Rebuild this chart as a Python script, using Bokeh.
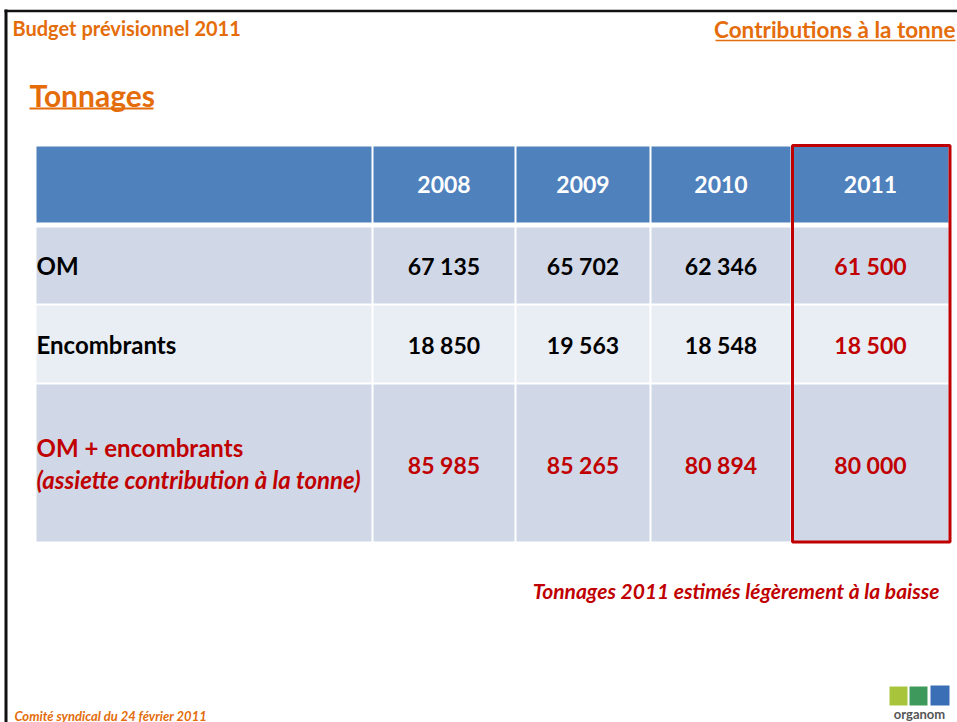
from bokeh.plotting import figure
from bokeh.models import Range1d, ColumnDataSource
from bokeh.core.properties import value
from bokeh.embed import file_html
from bokeh.resources import INLINE

# ---------------- data ----------------
years = ["2008", "2009", "2010", "2011"]
row_labels = ["OM", "Encombrants", "OM + encombrants"]
row_sublabel = "(assiette contribution à la tonne)"
om = [67135, 65702, 62346, 61500]
encombrants = [18850, 19563, 18548, 18500]
total = [85985, 85265, 80894, 80000]
series = [om, encombrants, total]

title_left = "Budget prévisionnel 2011"
title_right = "Contributions à la tonne"
heading = "Tonnages"
note = "Tonnages 2011 estimés légèrement à la baisse"
footer = "Comité syndical du 24 février 2011"

# ---------------- styles / layout ----------------
FONT = "Lato"
ORANGE = "#E46C0A"
RED = "#C00000"
HEAD = "#4F81BD"
ROW_DARK = "#D0D8E8"
ROW_LIGHT = "#E9EDF4"

col_edges = [(36, 371), (373, 514), (516, 649), (651, 790), (792, 948)]
row_edges = [(146, 222), (227, 303), (305, 382), (384, 541)]
row_fill = [HEAD, ROW_DARK, ROW_LIGHT, ROW_DARK]


def fmt(v):
    return f"{v:,}".replace(",", " ")


p = figure(width=957, height=722, x_range=Range1d(0, 957), y_range=Range1d(722, 0),
           x_axis_type=None, y_axis_type=None, toolbar_location=None,
           output_backend="svg", min_border=0, outline_line_color=None,
           background_fill_color="white", border_fill_color="white")
p.grid.visible = False

# slide frame (top and left borders)
p.segment(x0=[4], y0=[10.5], x1=[960], y1=[10.5], line_color="#111111", line_width=2.5)
p.segment(x0=[5.5], y0=[9], x1=[5.5], y1=[730], line_color="#111111", line_width=3)

# table cells
left, right, top, bottom, fills = [], [], [], [], []
for ri, (t, b) in enumerate(row_edges):
    for (l, r) in col_edges:
        left.append(l); right.append(r); top.append(t); bottom.append(b); fills.append(row_fill[ri])
p.quad(left=left, right=right, top=top, bottom=bottom, fill_color=fills, line_color=None)

# header years
hx = [(col_edges[i + 1][0] + col_edges[i + 1][1]) / 2 for i in range(len(years))]
hy = (row_edges[0][0] + row_edges[0][1]) / 2
p.text(x=hx, y=[hy] * len(years), text=years, text_color="white", text_font=value(FONT),
       text_font_style="bold", text_font_size="23px", text_align="center", text_baseline="middle")

# values
vx, vy, vt, vc = [], [], [], []
row_centers = [265, 344, 464]
for ri, s in enumerate(series):
    for ci, v in enumerate(s):
        vx.append(hx[ci]); vy.append(row_centers[ri]); vt.append(fmt(v))
        vc.append(RED if (ri == 2 or ci == 3) else "black")
src = ColumnDataSource(dict(x=vx, y=vy, t=vt, c=vc))
p.text(x="x", y="y", text="t", text_color="c", source=src, text_font=value(FONT),
       text_font_style="bold", text_font_size="23px", text_align="center", text_baseline="middle")

# row labels
p.text(x=[36, 36], y=row_centers[:2], text=row_labels[:2], text_color="black",
       text_font=value(FONT), text_font_style="bold", text_font_size="24px",
       text_baseline="middle")
p.text(x=[36], y=[447], text=[row_labels[2]], text_color=RED, text_font=value(FONT),
       text_font_style="bold", text_font_size="24px", text_baseline="middle")
p.text(x=[36], y=[479], text=[row_sublabel], text_color=RED, text_font=value(FONT),
       text_font_style="bold italic", text_font_size="24px", text_baseline="middle")

# red highlight frame around 2011 column
p.quad(left=[col_edges[4][0]], right=[949.5], top=[145], bottom=[541.5],
       fill_color=None, line_color=RED, line_width=3)

# titles
p.text(x=[12], y=[27], text=[title_left], text_color=ORANGE, text_font=value(FONT),
       text_font_style="bold", text_font_size="20px", text_baseline="middle")
p.text(x=[955], y=[29], text=[title_right], text_color=ORANGE, text_font=value(FONT),
       text_font_style="bold", text_font_size="22.5px", text_align="right", text_baseline="middle")
p.segment(x0=[715], y0=[40], x1=[955], y1=[40], line_color=ORANGE, line_width=1.5)

p.text(x=[29], y=[94], text=[heading], text_color=ORANGE, text_font=value(FONT),
       text_font_style="bold", text_font_size="30px", text_baseline="middle")
p.segment(x0=[29], y0=[108], x1=[153], y1=[108], line_color=ORANGE, line_width=2)

# note
p.text(x=[939], y=[590], text=[note], text_color=RED, text_font=value(FONT),
       text_font_style="bold italic", text_font_size="21px", text_align="right",
       text_baseline="middle")

# footer
p.text(x=[14], y=[715], text=[footer], text_color=ORANGE, text_font=value(FONT),
       text_font_style="bold italic", text_font_size="13px", text_baseline="middle")

# organom logo
p.quad(left=[889, 909], right=[907, 927], top=[686, 686], bottom=[705, 705],
       fill_color=["#A8C43A", "#3E9A5C"], line_color=None)
p.quad(left=[930], right=[949], top=[685], bottom=[705], fill_color=["#3A6FB5"], line_color=None)
p.text(x=[919], y=[713], text=["organom"], text_color="#555555", text_font=value(FONT),
       text_font_style="bold", text_font_size="13px", text_align="center", text_baseline="middle")

open("out.html", "w").write(file_html(p, INLINE))
